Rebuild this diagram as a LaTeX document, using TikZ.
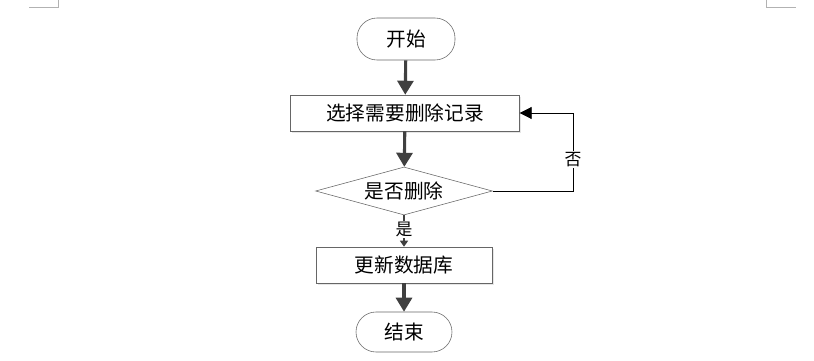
\documentclass[tikz,border=0pt]{standalone}
\usepackage{fontspec}
\newfontfamily\cjk{Noto Sans CJK SC}
\usetikzlibrary{shapes,arrows.meta,shadows}

\tikzset{
  term/.style={draw=gray!80!black, rounded corners=0.5cm, minimum width=2.45cm, minimum height=1.05cm, font=\cjk\fontsize{14}{16}\selectfont},
  proc/.style={draw=gray!80!black, fill=white, drop shadow={opacity=0.2, shadow xshift=1.2pt, shadow yshift=-1.2pt}, minimum height=0.9cm, font=\cjk\fontsize{14}{16}\selectfont},
  decide/.style={diamond, aspect=3.68, draw=gray!80!black, inner sep=0pt, minimum width=4.42cm, minimum height=1.2cm, font=\cjk\fontsize{14}{16}\selectfont},
  flow/.style={draw=black!75, line width=2.2pt, -{Triangle[length=0.35cm,width=0.4cm]}},
  back/.style={draw=black, line width=0.6pt, -{Triangle[length=0.3cm,width=0.3cm]}},
  lbl/.style={fill=white, inner sep=1pt, font=\cjk\fontsize{12}{14}\selectfont}
}

\begin{document}
\begin{tikzpicture}

    % Page size
    \useasboundingbox (0,0) rectangle (20.35,9);

    % Corner marks
    \draw[gray!60, line width=0.5pt] (0.725,8.825) -- (1.45,8.825) -- (1.45,9);
    \draw[gray!60, line width=0.5pt] (19.15,9) -- (19.15,8.825) -- (19.9,8.825);

    % Nodes
    \node[term] (start) at (10.15,8.025) {开始};
    \node[proc, minimum width=5.72cm] (select) at (10.125,6.175) {选择需要删除记录};
    \node[decide] (ask) at (10.1,4.225) {是否删除};
    \node[proc, minimum width=4.4cm] (update) at (10.1,2.375) {更新数据库};
    \node[term, minimum width=2.4cm, minimum height=1.0cm] (stop) at (10.1,0.7) {结束};

    % Free end of the no branch
    \coordinate (turn) at (14.325,4.225);

    % Connectors
    \draw[flow] (start) -- (select);
    \draw[flow] (select) -- (ask);
    \draw[line width=1.2pt, draw=black!75, -{Triangle[length=0.15cm,width=0.2cm]}] (ask) -- node[lbl, pos=0.45] {是} (update);
    \draw[flow] (update) -- (stop);
    \draw[back] (ask.east) -- (turn) |- node[lbl, pos=0.2] {否} (select.east);

  \end{tikzpicture}
\end{document}
